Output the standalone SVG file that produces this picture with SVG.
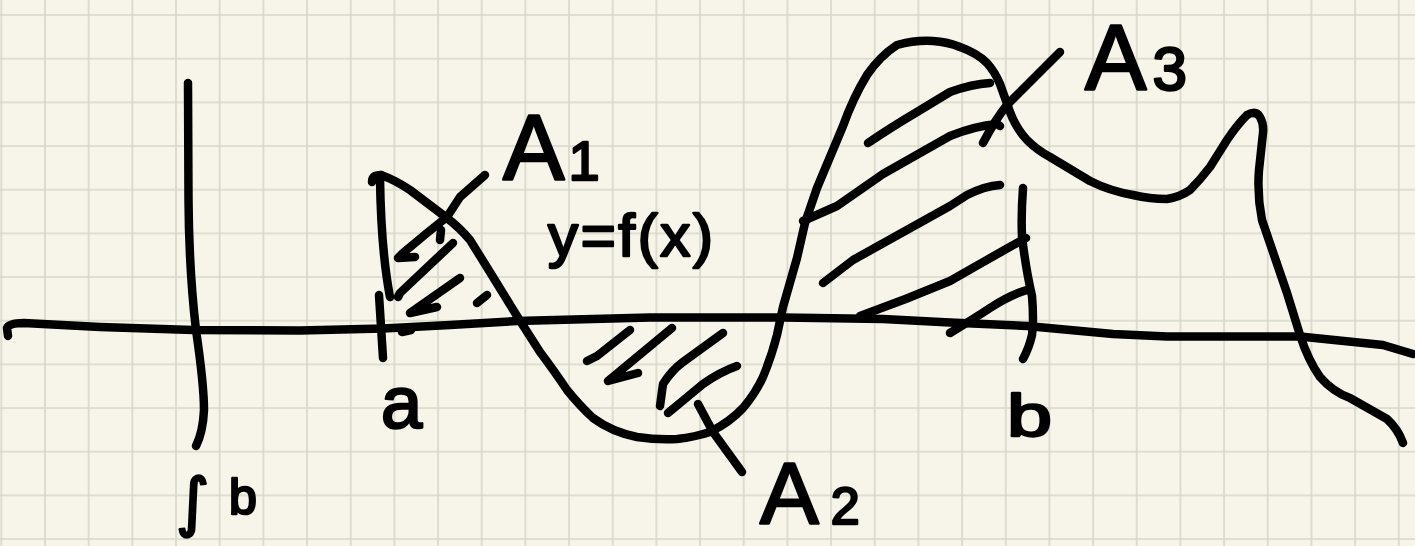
<svg xmlns="http://www.w3.org/2000/svg" width="1415" height="546" viewBox="0 0 1415 546">
<defs>
<pattern id="gridpat" patternUnits="userSpaceOnUse" x="-20.5" y="-6.8" width="43.67" height="43.67">
<path d="M21.835 0 V43.67 M0 21.835 H43.67" stroke="#d6d6c9" stroke-width="1.6" fill="none"/>
</pattern>
<style>
.s{fill:none;stroke:#000;stroke-width:8.5;stroke-linecap:round;stroke-linejoin:round}
.t{font-family:"Liberation Sans",Arial,sans-serif;fill:#000;stroke:#000;stroke-width:2.5;stroke-linejoin:round}
</style>
</defs>
<rect id="paper" x="0" y="0" width="1415" height="546" fill="#f7f5e9"/>
<rect id="grid" x="0" y="0" width="1415" height="546" fill="url(#gridpat)"/>

<g id="axes">
<path class="s" d="M8 336 L7 328 Q9 323 24 323 L100 327 L193 330 L300 330.5 L383 328.5 L450 325 L517 321 L650 317.5 L783 317.5 L883 319 L950 322.5 L1027 326 L1113 334 L1167 336.5 L1300 336.5 L1383 345 L1413 354"/>
<path class="s" d="M188 83 L188.5 200 Q189 270 196 330 Q204 385 204 410 Q203 432 196 446"/>
<path class="s" d="M379 295 L383 358"/>
<path class="s" d="M1023 188 Q1021 215 1022 237 Q1026 270 1032 296 Q1034 320 1032 335 Q1029 348 1023 359"/>
</g>

<g id="curve">
<path class="s" d="M372 182 Q372 175 381 175"/>
<path class="s" d="M380 178 Q381 250 390 297"/>
<path class="s" d="M381 175 Q395 180 410 190 L447 218 Q460 228 470 240 L493 277 L517 316 L540 352 Q555 372 567 390 Q580 406 593 418 Q612 432 637 437 Q657 440 677 439 Q695 437 710 432 Q730 422 743 408 Q755 394 763 377 Q772 355 777 335 L783 307 L797 258 L805 223 L817 188 L843 126 Q853 98 867 75 Q880 56 897 45 Q915 40 933 41 Q948 42 960 47 Q977 53 987 63 Q995 72 1000 84 L1010 112 Q1016 128 1027 140 Q1037 150 1050 157 L1090 181 Q1110 191 1133 195 Q1150 199 1167 199 Q1180 197 1190 190 Q1200 180 1210 167 L1227 140 Q1237 125 1247 115 Q1256 110 1260 117 Q1264 124 1263 133 L1259 170 Q1257 195 1262 220 L1287 293 L1300 335 Q1308 360 1320 377 Q1333 392 1350 398 L1387 419 Q1398 429 1403 443"/>
</g>

<g id="hatches">
<path class="s" d="M485 175 L460 197 L447 217 L427 233 L403 253 L398 258 L415 257"/>
<path class="s" d="M441 230 L440 240"/>
<path class="s" d="M453 243 L400 293 L398 297"/>
<path class="s" d="M460 278 L410 313 L437 307"/>
<path class="s" d="M477 303 L487 295"/>
<path class="s" d="M402 332 L411 330"/>
<path class="s" d="M587 361 L597 356 L630 330"/>
<path class="s" d="M672 328 L608 381 L638 373"/>
<path class="s" d="M660 406 L663 384 Q672 370 683 362 L723 333"/>
<path class="s" d="M668 413 L703 384 Q720 372 737 366"/>
<path class="s" d="M698 404 L713 432 L742 472"/>
<path class="s" d="M868 143 Q890 128 917 112 L950 92 Q972 84 990 83"/>
<path class="s" d="M803 221 L837 206 L883 174 L950 136 Q975 126 997 124 L1000 126"/>
<path class="s" d="M823 283 L853 260 L950 206 L967 195 Q985 186 1000 185"/>
<path class="s" d="M860 316 Q905 300 950 281 Q990 258 1026 238"/>
<path class="s" d="M950 333 Q975 318 990 308 Q1010 295 1027 290"/>
<path class="s" d="M1060 52 L1007 105 Q995 120 983 143"/>
</g>

<g id="labels">
<text class="t" x="503" y="180" font-size="92">A<tspan font-size="56" dx="4">1</tspan></text>
<text class="t" x="548" y="256" font-size="60" textLength="165">y=f(x)</text>
<text class="t" x="381" y="428" font-size="74">a</text>
<text class="t" x="1007" y="436" font-size="60" textLength="45" lengthAdjust="spacingAndGlyphs">b</text>
<text class="t" x="760" y="524" font-size="88">A<tspan font-size="52" dx="12">2</tspan></text>
<text class="t" x="1085" y="90" font-size="92">A<tspan font-size="62" dx="6">3</tspan></text>
<text class="t" x="176" y="524" font-size="64" style="font-family:'DejaVu Sans',sans-serif">∫</text>
<text class="t" x="229" y="514" font-size="50">b</text>
</g>
</svg>
